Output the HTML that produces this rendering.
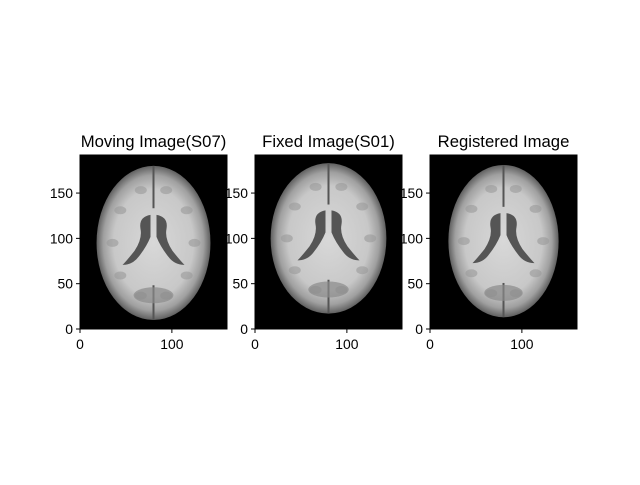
<!DOCTYPE html>
<html><head><meta charset="utf-8"><style>
body{margin:0;background:#fff;}
svg text{font-family:"Liberation Sans",sans-serif;font-size:14px;fill:#000;}
</style></head><body>
<svg id="fig" width="640" height="480" viewBox="0 0 640 480" xmlns="http://www.w3.org/2000/svg">
<defs>
<radialGradient id="wm" cx="50%" cy="50%" r="50%">
<stop offset="0" stop-color="#d8d8d8"/><stop offset="0.7" stop-color="#c8c8c8"/><stop offset="0.88" stop-color="#a0a0a0"/><stop offset="1" stop-color="#606060"/>
</radialGradient>
</defs>
</svg>
<script>
const titles=["Moving Image(S07)","Fixed Image(S01)","Registered Image"];
const xTicks=[0,100];
const yTicks=[0,50,100,150];
const xMax=160, yMax=192;
const panelLeft=[80,255,430];
const brainCx=[80,80,80], brainCy=[95,100,97], brainRx=[62,63,60], brainRy=[85,83,84];
const svg=document.getElementById('fig');
const NS='http://www.w3.org/2000/svg';
const top0=155, bottom0=329, W=147;
function mk(t,a,p){const e=document.createElementNS(NS,t);for(const k in a)e.setAttribute(k,a[k]);(p||svg).appendChild(e);return e;}
titles.forEach((title,i)=>{
  const L=panelLeft[i];
  const sx=v=>L+v/xMax*W, sy=v=>bottom0-v/yMax*(bottom0-top0);
  const g=mk('g',{});
  
  
  const bg=mk('rect',{x:L,y:top0,width:W,height:bottom0-top0,fill:'#000'},g);
  
  
  const cx=sx(brainCx[i]), cy=sy(brainCy[i]), rx=brainRx[i]/xMax*W, ry=brainRy[i]/yMax*(bottom0-top0);
  const br=mk('ellipse',{cx:cx,cy:cy,rx:rx,ry:ry,fill:'url(#wm)'},g);
  
  
  mk('line',{x1:cx,y1:cy-ry,x2:cx,y2:cy-ry*0.45,stroke:'#555','stroke-width':2},g);
  mk('line',{x1:cx,y1:cy+ry*0.55,x2:cx,y2:cy+ry,stroke:'#555','stroke-width':2},g);
  const v=mk('path',{d:`M${cx-3},${cy-28} q-12,2 -10,14 q2,10 -6,22 q-8,10 -12,14 q10,0 16,-8 q8,-10 12,-20 z M${cx+3},${cy-28} q12,2 10,14 q-2,10 6,22 q8,10 12,14 q-10,0 -16,-8 q-8,-10 -12,-20 z`,fill:'#555'},g);
  
  
  for(let k=0;k<10;k++){const a=k/10*Math.PI*2;mk('ellipse',{cx:cx+Math.cos(a)*rx*0.72,cy:cy+Math.sin(a)*ry*0.72,rx:6,ry:4,fill:'#999',opacity:0.6},g);}
  mk('ellipse',{cx:cx,cy:cy+ry*0.68,rx:rx*0.35,ry:8,fill:'#8a8a8a',opacity:0.7},g);
  mk('rect',{x:L,y:top0,width:W,height:bottom0-top0,fill:'none',stroke:'#000','stroke-width':1},g);
  xTicks.forEach(t=>{const x=sx(t);mk('line',{x1:x,y1:bottom0,x2:x,y2:bottom0+4,stroke:'#000'},g);
    const tx=mk('text',{x:x,y:bottom0+20,'text-anchor':'middle',style:'font-size:13.9px'},g);tx.textContent=t;
    });
  yTicks.forEach(t=>{const y=sy(t);mk('line',{x1:L,y1:y,x2:L-4,y2:y,stroke:'#000'},g);
    const ty=mk('text',{x:L-7,y:y+5,'text-anchor':'end',style:'font-size:13.9px'},g);ty.textContent=t;
    });
  const tt=mk('text',{x:L+W/2,y:top0-8,'text-anchor':'middle',style:'font-size:16.7px'},g);tt.textContent=title;
  
  
});
</script>
</body></html>
